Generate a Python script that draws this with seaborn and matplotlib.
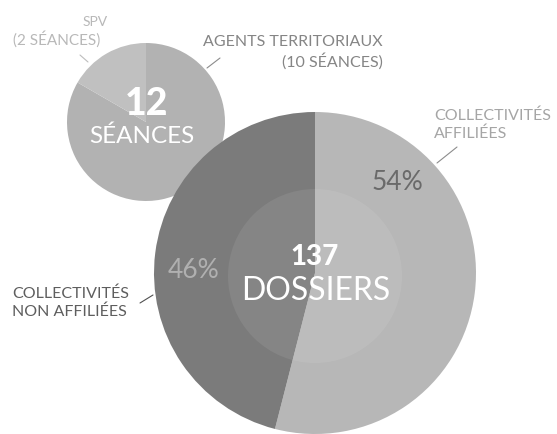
import matplotlib
matplotlib.use("Agg")
import matplotlib.pyplot as plt
import seaborn as sns
from matplotlib.patches import Circle

sns.set_theme(style="white")
plt.rcParams['font.family'] = ['Lato', 'DejaVu Sans']

# Data
seances_labels = ["AGENTS TERRITORIAUX", "SPV"]
seances_values = [10, 2]
seances_total = 12
dossiers_labels = ["COLLECTIVITÉS AFFILIÉES", "COLLECTIVITÉS NON AFFILIÉES"]
dossiers_pct = [54, 46]
dossiers_total = 137

W, H = 557, 434
fig = plt.figure(figsize=(W / 100, H / 100), dpi=100)
ax = fig.add_axes([0, 0, 1, 1])

def Y(y):
    return H - y

# small pie (séances)
small_c = (146, Y(122))
small_r = 79
ax.pie(seances_values, colors=["#b2b2b2", "#c0c0c0"], startangle=90,
       counterclock=False, center=small_c, radius=small_r,
       wedgeprops=dict(linewidth=0), frame=True)

# big pie (dossiers)
big_c = (315, Y(273))
big_r = 161
ax.pie(dossiers_pct, colors=["#b7b7b7", "#7b7b7b"], startangle=90,
       counterclock=False, center=big_c, radius=big_r,
       wedgeprops=dict(linewidth=0), frame=True)
ax.add_patch(Circle((315, Y(276)), 87, facecolor="white", alpha=0.08,
                    linewidth=0, zorder=3))

ax.set_xlim(0, W)
ax.set_ylim(0, H)
ax.set_aspect('equal')
ax.axis('off')

# center texts
ax.text(147, Y(104), str(seances_total), ha='center', va='center',
        fontsize=27, fontweight='black', color='white', zorder=5)
ax.text(142, Y(136), "SÉANCES", ha='center', va='center',
        fontsize=17.5, color='white', zorder=5)
ax.text(315, Y(257), str(dossiers_total), ha='center', va='center',
        fontsize=20, fontweight='black', color='white', zorder=5)
ax.text(316, Y(291), "DOSSIERS", ha='center', va='center',
        fontsize=23, color='white', zorder=5)

# percentages
ax.text(397, Y(182), f"{dossiers_pct[0]}%", ha='center', va='center',
        fontsize=19, color='#6a6a6a', zorder=5)
ax.text(194, Y(270), f"{dossiers_pct[1]}%", ha='center', va='center',
        fontsize=19, color='#b0b0b0', zorder=5)

fs = 11.5
ax.text(95, Y(22), "SPV", ha='center', va='center', fontsize=10,
        color='#b8b8b8')
ax.text(57, Y(39), "(2 SÉANCES)", ha='center', va='center', fontsize=11,
        color='#b8b8b8')
ax.plot([80, 88], [Y(55), Y(62)], color='#bdbdbd', lw=0.8)

ax.text(383, Y(42), "AGENTS TERRITORIAUX", ha='right', va='center',
        fontsize=fs, color='#858585')
ax.text(383, Y(61), "(10 SÉANCES)", ha='right', va='center',
        fontsize=fs, color='#858585')
ax.plot([220, 207], [Y(58), Y(68)], color='#8c8c8c', lw=0.8)

ax.text(434, Y(116), "COLLECTIVITÉS", ha='left', va='center',
        fontsize=fs, color='#a5a5a5')
ax.text(434, Y(134), "AFFILIÉES", ha='left', va='center',
        fontsize=fs, color='#a5a5a5')
ax.plot([457, 437], [Y(147), Y(163)], color='#8c8c8c', lw=0.8, zorder=5)

ax.text(12, Y(294), "COLLECTIVITÉS", ha='left', va='center',
        fontsize=fs, color='#5e5e5e')
ax.text(12, Y(312), "NON AFFILIÉES", ha='left', va='center',
        fontsize=fs, color='#5e5e5e')
ax.plot([140, 153], [Y(303), Y(295)], color='#505050', lw=0.8, zorder=5)

fig.savefig("out.png", dpi=100, facecolor='white')
